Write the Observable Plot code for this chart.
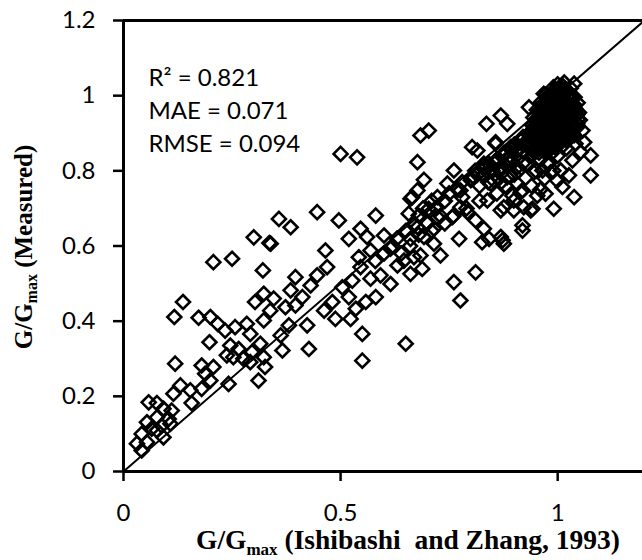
<!DOCTYPE html>
<html>
<head>
<meta charset="utf-8">
<script src="https://cdn.jsdelivr.net/npm/d3@7"></script>
<script src="https://cdn.jsdelivr.net/npm/@observablehq/plot@0.6"></script>
<style>
  html, body { margin: 0; padding: 0; background: #fff; }
  #chart svg { display: block; }
</style>
</head>
<body>
<div id="chart"></div>
<script>
// G/Gmax predicted (Ishibashi and Zhang, 1993) -> x ; G/Gmax measured -> y
const predictedLow = [0.300,0.336,0.207,0.250,0.321,0.137,0.117,0.173,0.200,0.217,0.234,0.257,0.284,0.303,0.323,0.346,0.338,0.323,0.292,0.198,0.246,0.265,0.253,0.238,0.276,0.296,0.315,0.323,0.326,0.311,0.292,0.119,0.180,0.207,0.188,0.200,0.180,0.154,0.131,0.115,0.157,0.242,0.058,0.077,0.092,0.111,0.104,0.077,0.054,0.065,0.088,0.108,0.042,0.031,0.054,0.042,0.077,0.092];
const measuredLow  = [0.623,0.608,0.557,0.566,0.535,0.451,0.411,0.409,0.411,0.393,0.375,0.384,0.393,0.451,0.473,0.460,0.428,0.402,0.366,0.344,0.335,0.326,0.304,0.309,0.300,0.318,0.340,0.304,0.278,0.242,0.291,0.287,0.282,0.278,0.260,0.242,0.220,0.216,0.229,0.207,0.182,0.233,0.184,0.182,0.167,0.162,0.140,0.144,0.131,0.114,0.122,0.127,0.100,0.074,0.078,0.056,0.109,0.091];

const predictedMid = [0.500,0.538,0.677,0.358,0.385,0.446,0.496,0.581,0.339,0.546,0.519,0.465,0.561,0.600,0.615,0.542,0.569,0.469,0.446,0.396,0.385,0.431,0.412,0.396,0.373,0.481,0.504,0.527,0.546,0.569,0.592,0.581,0.558,0.535,0.523,0.488,0.462,0.519,0.423,0.381,0.362,0.366,0.427,0.550,0.550,0.650,0.615,0.631,0.661,0.669,0.661,0.657,0.665,0.677,0.580,0.600,0.620,0.630,0.650,0.670,0.640,0.660,0.680,0.700,0.690,0.710,0.730];
const measuredMid  = [0.845,0.836,0.823,0.672,0.650,0.690,0.668,0.681,0.606,0.646,0.619,0.588,0.624,0.628,0.593,0.570,0.588,0.544,0.522,0.517,0.482,0.495,0.464,0.442,0.437,0.451,0.490,0.508,0.544,0.513,0.522,0.464,0.451,0.433,0.406,0.406,0.428,0.464,0.389,0.389,0.362,0.322,0.326,0.366,0.295,0.340,0.499,0.548,0.526,0.570,0.619,0.686,0.730,0.650,0.560,0.580,0.600,0.620,0.640,0.660,0.580,0.600,0.630,0.660,0.700,0.720,0.680];

const predictedHigh = [0.684,0.703,0.836,0.869,0.884,0.692,0.677,0.661,0.723,0.761,0.803,0.815,0.857,0.746,0.776,0.807,0.830,0.846,0.869,0.892,0.907,0.680,0.703,0.723,0.776,0.757,0.792,0.811,0.838,0.869,0.899,0.922,0.715,0.692,0.715,0.684,0.730,0.773,0.830,0.842,0.869,0.876,0.826,0.919,0.646,0.688,0.811,0.761,0.776,
  0.934,0.968,1.038,1.057,1.061,1.053,1.076,1.034,1.026,1.076,1.038,1.011,0.991,0.972,0.942,0.919,0.896,0.876,0.919,0.999,0.976,0.945,0.907,0.884,0.853,0.830,0.857,0.892,0.922,0.953,1.007,1.045,1.041,0.965,0.984,0.938,0.915,0.873,0.899,
  0.720,0.740,0.750,0.770,0.780,0.800,0.810,0.820,0.830,0.840,0.850,0.860,0.870,0.880,0.890,0.900,0.910,0.920,0.930,0.880,0.900,0.920,0.940,0.860,0.820,0.790,0.760,0.740,0.710,0.780,0.840,0.870,0.890,0.910,0.930,0.950,0.960,0.970,0.980,0.950,0.970,0.990,1.000,1.020,0.940,0.960,
  0.800,0.815,0.830,0.845,0.860,0.875,0.890,0.905,0.920,0.935,0.865,0.885,0.905,0.925,0.945,0.955,0.915,0.895,0.875,0.855];
const measuredHigh  = [0.894,0.907,0.925,0.947,0.925,0.776,0.748,0.726,0.730,0.801,0.863,0.854,0.872,0.766,0.748,0.783,0.810,0.766,0.792,0.828,0.766,0.681,0.699,0.677,0.703,0.677,0.690,0.668,0.721,0.695,0.721,0.703,0.646,0.624,0.606,0.575,0.575,0.619,0.646,0.619,0.624,0.606,0.610,0.641,0.561,0.539,0.530,0.504,0.455,
  0.969,1.005,1.032,0.907,0.876,0.850,0.841,0.828,0.788,0.788,0.730,0.757,0.699,0.739,0.699,0.748,0.734,0.703,0.655,0.774,0.819,0.796,0.810,0.783,0.774,0.819,0.876,0.863,0.850,0.734,0.801,0.925,0.872,0.801,0.796,0.695,0.743,0.615,0.695,
  0.700,0.720,0.740,0.750,0.770,0.780,0.800,0.760,0.790,0.820,0.800,0.830,0.810,0.850,0.840,0.870,0.860,0.890,0.880,0.760,0.790,0.820,0.840,0.740,0.720,0.700,0.680,0.660,0.640,0.730,0.770,0.770,0.820,0.800,0.820,0.860,0.830,0.850,0.820,0.800,0.780,0.800,0.840,0.860,0.760,0.750,
  0.775,0.790,0.805,0.815,0.830,0.845,0.860,0.870,0.885,0.900,0.805,0.830,0.850,0.870,0.890,0.910,0.880,0.860,0.840,0.820];

// dense cluster near G/Gmax = 1
const predictedCluster = [0.990,1.003,1.012,1.021,1.030,0.972,0.981,0.996,1.008,1.026,1.039,0.961,0.974,0.992,1.004,1.019,1.036,1.046,0.952,0.966,0.979,0.994,1.011,1.024,1.041,1.049,0.944,0.961,0.976,0.989,1.006,1.018,1.034,1.051,0.941,0.953,0.971,0.986,0.999,1.016,1.031,1.044,0.936,0.951,0.964,0.981,0.996,1.009,1.026,1.038,0.931,0.946,0.959,0.977,0.991,1.004,1.021,0.936,0.949,0.966,0.979,0.994,1.000,1.015,
  0.997,1.010,1.018,1.027,0.977,0.988,1.002,1.014,1.031,0.968,0.983,0.998,1.011,1.027,1.040,0.958,0.972,0.987,1.001,1.017,1.031,1.045,0.950,0.967,0.982,0.995,1.012,1.025,1.040,0.947,0.960,0.977,0.992,1.005,1.022,1.037,0.942,0.957,0.971,0.987,1.002,1.015,1.031,0.938,0.953,0.966,0.984,0.997,1.011,0.943,0.957,0.972,0.986,
  0.994,1.006,1.018,0.975,0.987,0.999,1.011,1.023,1.035,0.965,0.977,0.989,1.001,1.013,1.025,1.037,0.956,0.968,0.980,0.992,1.004,1.016,1.028,1.040,0.950,0.962,0.974,0.986,0.998,1.010,1.022,1.034,1.046,0.945,0.957,0.969,0.981,0.993,1.005,1.017,1.029,1.041,0.940,0.952,0.964,0.976,0.988,1.000,1.012,1.024,1.036,0.937,0.949,0.961,0.973,0.985,0.997,1.009,0.944,0.956,0.968,0.980];
const measuredCluster  = [1.022,1.018,1.025,1.015,1.020,1.002,0.998,1.004,0.997,1.003,0.996,0.982,0.978,0.984,0.977,0.983,0.976,0.981,0.962,0.958,0.964,0.957,0.962,0.956,0.961,0.955,0.942,0.938,0.944,0.937,0.943,0.936,0.941,0.935,0.922,0.918,0.924,0.917,0.923,0.916,0.921,0.915,0.902,0.898,0.904,0.897,0.903,0.896,0.901,0.895,0.882,0.878,0.884,0.877,0.883,0.876,0.881,0.862,0.858,0.864,0.857,0.863,1.030,1.035,
  1.012,1.008,1.011,1.006,0.992,0.988,0.993,0.987,0.991,0.972,0.968,0.973,0.967,0.971,0.966,0.952,0.948,0.953,0.947,0.951,0.946,0.950,0.932,0.928,0.933,0.927,0.931,0.926,0.930,0.912,0.908,0.913,0.907,0.911,0.906,0.910,0.892,0.888,0.893,0.887,0.891,0.886,0.890,0.872,0.868,0.873,0.867,0.871,0.866,0.852,0.848,0.853,0.847,
  1.017,1.017,1.017,0.997,0.997,0.997,0.997,0.997,0.997,0.977,0.977,0.977,0.977,0.977,0.977,0.977,0.957,0.957,0.957,0.957,0.957,0.957,0.957,0.957,0.937,0.937,0.937,0.937,0.937,0.937,0.937,0.937,0.937,0.917,0.917,0.917,0.917,0.917,0.917,0.917,0.917,0.917,0.897,0.897,0.897,0.897,0.897,0.897,0.897,0.897,0.897,0.877,0.877,0.877,0.877,0.877,0.877,0.877,0.857,0.857,0.857,0.857];

const xTicks = [0, 0.5, 1];
const yTicks = [0, 0.2, 0.4, 0.6, 0.8, 1, 1.2];
const statsLines = ["R\u00B2 = 0.821", "MAE = 0.071", "RMSE = 0.094"];
const identityLine = [0, 1.2];

const predicted = [...predictedLow, ...predictedMid, ...predictedHigh, ...predictedCluster];
const measured = [...measuredLow, ...measuredMid, ...measuredHigh, ...measuredCluster];
const points = predicted.map((p, i) => ({p, m: measured[i]}));

const chart = Plot.plot({
  width: 642,
  height: 560,
  marginLeft: 123,
  marginRight: 0,
  marginTop: 20,
  marginBottom: 89,
  x: {domain: [0, 1.2], range: [123, 644]},
  y: {domain: [0, 1.2], range: [471, 20]},
  style: {fontFamily: "Lato", fontSize: "24px", color: "black", background: "white", overflow: "visible"},
  marks: [
    Plot.dot(points, {x: "p", y: "m", symbol: "diamond2", r: 6.3, stroke: "black", strokeWidth: 2.6, fill: "none"}),
    Plot.line(identityLine, {x: d => d, y: d => d, stroke: "black", strokeWidth: 2}),
    Plot.ruleY([1.2], {stroke: "black", strokeWidth: 3}),
    Plot.ruleY([0], {stroke: "black", strokeWidth: 3}),
    Plot.ruleX([0], {stroke: "black", strokeWidth: 3}),
    Plot.axisY(yTicks, {tickSize: 10, tickPadding: 18, tickFormat: d => String(d), fontSize: 24, strokeWidth: 2.5, label: null}),
    Plot.axisX(xTicks, {tickSize: 10, tickPadding: 22, tickFormat: d => String(d), fontSize: 24, strokeWidth: 2.5, label: null}),
    Plot.text([statsLines.join("\n")], {text: d => d, frameAnchor: "top-left", dx: 25, dy: 42, textAnchor: "start", lineAnchor: "top", lineHeight: 1.375, fontSize: 24, fill: "black"})
  ]
});

document.getElementById("chart").appendChild(chart);

const svg = d3.select(chart);
function title(sel, sizeMain, sizeSub, shift, rest) {
  sel.attr("font-family", "'Liberation Serif', 'Times New Roman', serif")
     .attr("font-weight", "bold")
     .attr("font-size", sizeMain)
     .attr("fill", "black")
     .attr("text-anchor", "middle")
     .style("white-space", "pre");
  sel.append("tspan").text("G/G");
  sel.append("tspan").attr("font-size", sizeSub).attr("dy", shift).text("max");
  sel.append("tspan").attr("dy", -shift).text(rest);
}
title(svg.append("text").attr("x", 408).attr("y", 549), 27.5, 17, 6, " (Ishibashi  and Zhang, 1993)");
title(svg.append("text").attr("transform", "translate(32,247) rotate(-90)"), 25, 16, 5, " (Measured)");
</script>
</body>
</html>
